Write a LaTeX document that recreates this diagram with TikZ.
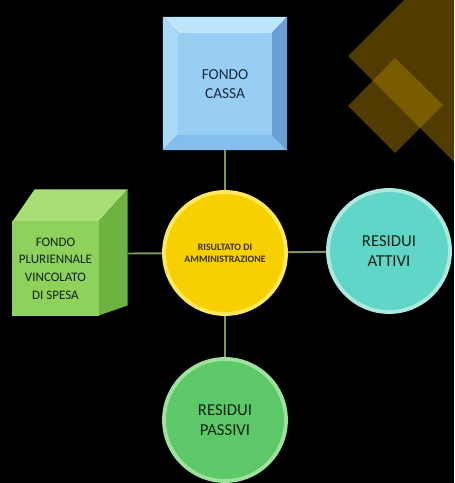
\documentclass[tikz,border=0pt]{standalone}
\usepackage{fontspec}
\setmainfont{Carlito}
\usetikzlibrary{calc}
\definecolor{cassaFace}{RGB}{152,206,244}
\definecolor{cassaTop}{RGB}{188,228,251}
\definecolor{cassaLeft}{RGB}{170,216,247}
\definecolor{cassaRight}{RGB}{104,160,212}
\definecolor{cassaBottom}{RGB}{132,190,236}
\definecolor{cubeFront}{RGB}{142,210,92}
\definecolor{cubeTop}{RGB}{168,222,118}
\definecolor{cubeSide}{RGB}{110,178,64}
\definecolor{yellowFill}{RGB}{248,208,0}
\definecolor{yellowRim}{RGB}{255,232,90}
\definecolor{tealFill}{RGB}{96,214,200}
\definecolor{tealRim}{RGB}{172,234,224}
\definecolor{greenFill}{RGB}{92,200,104}
\definecolor{greenRim}{RGB}{156,226,156}
\definecolor{linkGreen}{RGB}{122,152,84}
\definecolor{goldDeco}{RGB}{170,128,0}
\definecolor{textNavy}{RGB}{24,42,62}
\definecolor{textDark}{RGB}{18,36,22}
\definecolor{textOlive}{RGB}{60,50,6}
\tikzset{
	disc/.style={
		circle,
		minimum size=2.44cm,
		line width=2.2pt,
		align=center,
		inner sep=0pt,
		text=textDark,
		font=\fontsize{9.5}{11.3}\selectfont
	},
	facebox/.style={
		rectangle,
		align=center,
		inner sep=0pt,
		line width=0.6pt
	},
	link/.style={line width=1.1pt, linkGreen},
	deco/.style={fill=goldDeco, fill opacity=0.47}
}
\begin{document}
\begin{tikzpicture}[x=0.02cm, y=-0.02cm]
		\fill[black] (0,0) rectangle (454,483);
		\useasboundingbox (0,0) rectangle (454,483);
		\begin{scope}
			\clip (0,0) rectangle (454,483);
			\fill[deco] (348,56) -- (468,-64) -- (588,56) -- (468,176) -- cycle;
			\fill[deco] (348,106) -- (395,58) -- (443,105) -- (395,153) -- cycle;
		\end{scope}
		\node[facebox, minimum width=1.86cm, minimum height=2.02cm] (cassa) at (225,84) {};
		\fill[cassaTop] (cassa.north west) -- ++(-15,-16) -- ($(cassa.north east)+(15,-16)$) -- (cassa.north east) -- cycle;
		\fill[cassaLeft] (cassa.north west) -- ++(-15,-16) -- ($(cassa.south west)+(-15,15)$) -- (cassa.south west) -- cycle;
		\fill[cassaRight] (cassa.north east) -- ++(15,-16) -- ($(cassa.south east)+(15,15)$) -- (cassa.south east) -- cycle;
		\fill[cassaBottom] (cassa.south west) -- ++(-15,15) -- ($(cassa.south east)+(15,15)$) -- (cassa.south east) -- cycle;
		\node[facebox, fill=cassaFace, draw=cassaFace, minimum width=1.86cm, minimum height=2.02cm, text=textNavy, font=\fontsize{8.7}{10.4}\selectfont] (cassaface) at (cassa) {FONDO\\CASSA};
		\coordinate (cassabase) at ($(cassa.south)+(0,15)$);
		\node[facebox, minimum width=1.7cm, minimum height=1.86cm] (fpv) at (55.5,268.5) {};
		\fill[cubeTop] (fpv.north west) -- ++(22,-32) -- ($(fpv.north east)+(29,-32)$) -- (fpv.north east) -- cycle;
		\fill[cubeSide] (fpv.north east) -- ++(29,-32) -- ($(fpv.south east)+(29,-10)$) -- (fpv.south east) -- cycle;
		\node[facebox, fill=cubeFront, draw=cubeFront, minimum width=1.7cm, minimum height=1.86cm, text=textDark, font=\fontsize{7.4}{10}\selectfont] (fpvface) at (fpv) {FONDO\\PLURIENNALE\\VINCOLATO\\DI SPESA};
		\coordinate (fpvside) at ($(fpv.east)+(29,-15)$);
		\node[disc, fill=yellowFill, draw=yellowRim, text=textOlive, font=\bfseries\fontsize{5.6}{7}\selectfont] (risultato) at (225,253) {RISULTATO DI\\AMMINISTRAZIONE};
		\node[disc, fill=tealFill, draw=tealRim] (attivi) at (389,251) {RESIDUI\\ATTIVI};
		\node[disc, fill=greenFill, draw=greenRim] (passivi) at (225,420) {RESIDUI\\PASSIVI};
		\draw[link] (cassabase) -- (risultato);
		\draw[link] (risultato) -- (passivi);
		\draw[link] (fpvside) -- (risultato);
		\draw[link] (risultato) -- (attivi);
	\end{tikzpicture}
\end{document}
